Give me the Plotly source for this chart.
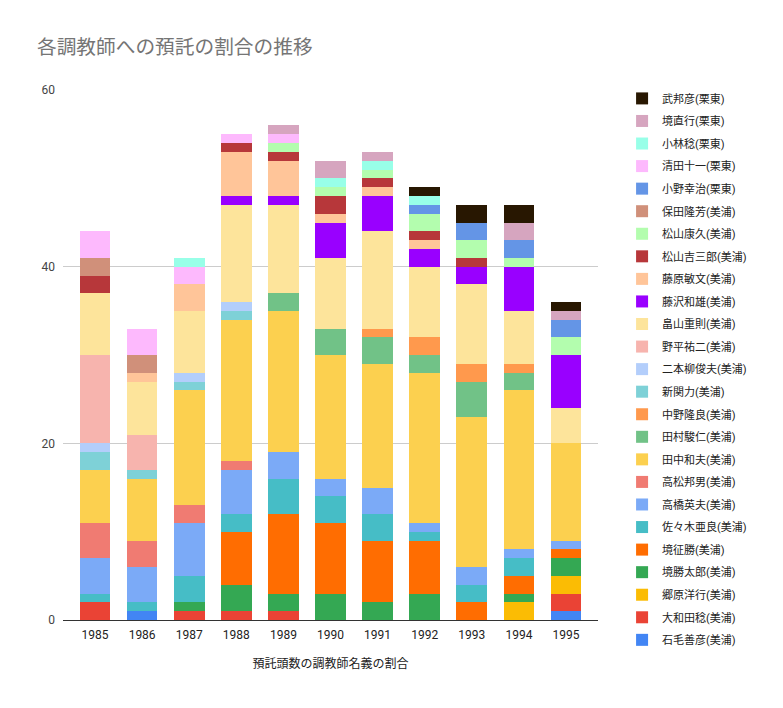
import plotly.graph_objects as go

years = ["1985", "1986", "1987", "1988", "1989", "1990", "1991", "1992", "1993", "1994", "1995"]

# stacking order: bottom -> top
names = [
    "石毛善彦(美浦)", "大和田稔(美浦)", "郷原洋行(美浦)", "境勝太郎(美浦)", "境征勝(美浦)",
    "佐々木亜良(美浦)", "高橋英夫(美浦)", "高松邦男(美浦)", "田中和夫(美浦)", "田村駿仁(美浦)",
    "中野隆良(美浦)", "新関力(美浦)", "二本柳俊夫(美浦)", "野平祐二(美浦)", "畠山重則(美浦)",
    "藤沢和雄(美浦)", "藤原敏文(美浦)", "松山吉三郎(美浦)", "松山康久(美浦)", "保田隆芳(美浦)",
    "小野幸治(栗東)", "清田十一(栗東)", "小林稔(栗東)", "境直行(栗東)", "武邦彦(栗東)",
]

ishige      = [0, 1, 0, 0, 0, 0, 0, 0, 0, 0, 1]
owada       = [2, 0, 1, 1, 1, 0, 0, 0, 0, 0, 2]
gohara      = [0, 0, 0, 0, 0, 0, 0, 0, 0, 2, 2]
sakai_kt    = [0, 0, 1, 3, 2, 3, 2, 3, 0, 1, 2]
sakai_ms    = [0, 0, 0, 6, 9, 8, 7, 6, 2, 2, 1]
sasaki      = [1, 1, 3, 2, 4, 3, 3, 1, 2, 2, 0]
takahashi   = [4, 4, 6, 5, 3, 2, 3, 1, 2, 1, 1]
takamatsu   = [4, 3, 2, 1, 0, 0, 0, 0, 0, 0, 0]
tanaka      = [6, 7, 13, 16, 16, 14, 14, 17, 17, 18, 11]
tamura      = [0, 0, 0, 0, 2, 3, 3, 2, 4, 2, 0]
nakano      = [0, 0, 0, 0, 0, 0, 1, 2, 2, 1, 0]
niizeki     = [2, 1, 1, 1, 0, 0, 0, 0, 0, 0, 0]
nihonyanagi = [1, 0, 1, 1, 0, 0, 0, 0, 0, 0, 0]
nohira      = [10, 4, 0, 0, 0, 0, 0, 0, 0, 0, 0]
hatakeyama  = [7, 6, 7, 11, 10, 8, 11, 8, 9, 6, 4]
fujisawa    = [0, 0, 0, 1, 1, 4, 4, 2, 2, 5, 6]
fujiwara    = [0, 1, 3, 5, 4, 1, 1, 1, 0, 0, 0]
matsuyama_k = [2, 0, 0, 1, 1, 2, 1, 1, 1, 0, 0]
matsuyama_y = [0, 0, 0, 0, 1, 1, 1, 2, 2, 1, 2]
yasuda      = [2, 2, 0, 0, 0, 0, 0, 0, 0, 0, 0]
ono         = [0, 0, 0, 0, 0, 0, 0, 1, 2, 2, 2]
kiyota      = [3, 3, 2, 1, 1, 0, 0, 0, 0, 0, 0]
kobayashi   = [0, 0, 1, 0, 0, 1, 1, 1, 0, 0, 0]
sakai_nao   = [0, 0, 0, 0, 1, 2, 1, 0, 0, 2, 1]
take        = [0, 0, 0, 0, 0, 0, 0, 1, 2, 2, 1]

series = [ishige, owada, gohara, sakai_kt, sakai_ms, sasaki, takahashi, takamatsu, tanaka,
          tamura, nakano, niizeki, nihonyanagi, nohira, hatakeyama, fujisawa, fujiwara,
          matsuyama_k, matsuyama_y, yasuda, ono, kiyota, kobayashi, sakai_nao, take]

colors = [
    "#4285F4", "#EA4335", "#FBBC04", "#34A853", "#FF6D01",
    "#46BDC6", "#7BAAF7", "#F07B72", "#FCD04F", "#71C287",
    "#FF994D", "#7ED1D7", "#B3CEFB", "#F7B4AE", "#FDE49B",
    "#9900FF", "#FFC599", "#B7373A", "#B3FDAE", "#D0907A",
    "#6495E6", "#FDB9FD", "#98FFE8", "#D6A5BF", "#281701",
]

FONT = "Roboto, 'Noto Sans CJK JP', Arial, sans-serif"

fig = go.Figure()
n = len(names)
for i, (name, vals, col) in enumerate(zip(names, series, colors)):
    fig.add_trace(go.Bar(
        x=years,
        y=[v if v else None for v in vals],
        name=name,
        legendgroup=name,
        legendrank=1000 + (n - i),
        marker=dict(color=col, line=dict(width=0)),
    ))

fig.update_layout(
    width=783, height=708,
    barmode="stack",
    bargap=0.35,
    plot_bgcolor="white",
    paper_bgcolor="white",
    margin=dict(l=63, r=185, t=90, b=88, autoexpand=False),
    font=dict(family=FONT, size=12, color="#444444"),
    title=dict(
        text="各調教師への預託の割合の推移",
        x=37 / 783, xref="container", xanchor="left",
        y=1 - 47 / 708, yref="container", yanchor="middle",
        font=dict(family=FONT, size=19.7, color="#757575"),
    ),
    xaxis=dict(
        type="category",
        range=[-0.68, 10.68],
        showgrid=False,
        showline=False,
        ticks="",
        ticklabelstandoff=6,
        tickfont=dict(size=12, color="#222222"),
        title=dict(text="預託頭数の調教師名義の割合", font=dict(size=12, color="#222222"), standoff=18),
        fixedrange=True,
    ),
    yaxis=dict(
        range=[0, 60],
        tickvals=[0, 20, 40, 60],
        showgrid=True,
        gridcolor="#cccccc",
        gridwidth=1,
        zeroline=True,
        zerolinecolor="#333333",
        zerolinewidth=1,
        showline=False,
        ticks="",
        ticklabelstandoff=7,
        tickfont=dict(size=12, color="#444444"),
    ),
    legend=dict(
        x=1.045, xanchor="left",
        y=1.0115, yanchor="top",
        maxheight=660,
        traceorder="grouped",
        tracegroupgap=3.56,
        font=dict(size=11, color="#222222"),
        itemclick=False,
    ),
    showlegend=True,
)

fig.write_html("out.html")
